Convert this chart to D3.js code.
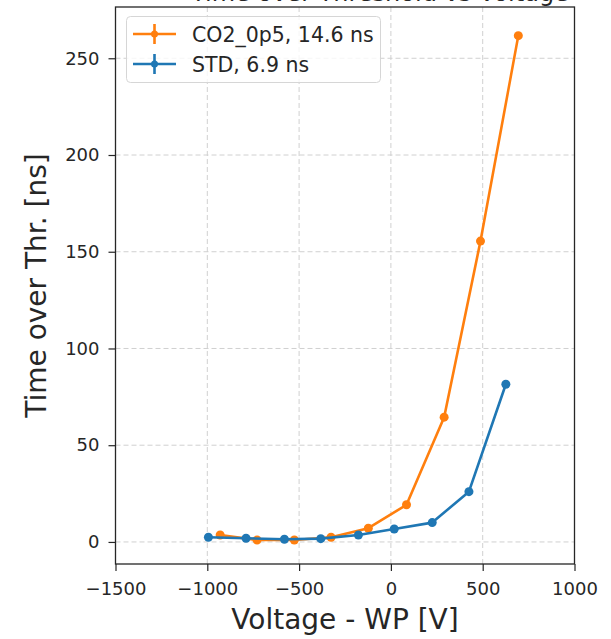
<!DOCTYPE html>
<html>
<head>
<meta charset="utf-8">
<script src="https://cdn.jsdelivr.net/npm/d3@7"></script>
<style>
  body { margin: 0; background: #fff; }
  svg { display: block; font-family: "DejaVu Sans", sans-serif; }
  .grid line { stroke: #d0d0d0; stroke-width: 1; stroke-dasharray: 5,3; }
</style>
</head>
<body>
<svg width="611" height="639"></svg>
<script>
(function() {
  // values
  var co2X = [-930, -729, -526, -326, -123, 85, 290, 488, 694];
  var co2Y = [3.6, 1.0, 1.0, 2.4, 7.1, 19.2, 64.5, 155.5, 261.7];
  var stdX = [-994, -789, -580, -382, -177, 18, 225, 425, 626];
  var stdY = [2.4, 1.9, 1.4, 1.7, 3.6, 6.7, 10, 26, 81.5];
  var seriesNames = ["CO2_0p5, 14.6 ns", "STD, 6.9 ns"];
  var seriesColors = ["#ff7f0e", "#1f77b4"];
  var xTicks = [-1500, -1000, -500, 0, 500, 1000];
  var yTicks = [0, 50, 100, 150, 200, 250];

  var svg = d3.select("svg");
  var left = 115.5, right = 574.5, top = 7, bottom = 564;
  var ink = "#262626";

  var x = d3.scaleLinear().domain([-1500, 1000]).range([left, right]);
  var y = d3.scaleLinear().domain([-11.4, 276.5]).range([bottom, top]);

  // cut-off title, only the bottom of it shows
  svg.append("text")
      .attr("x", 380)
      .attr("y", 0.5)
      .attr("text-anchor", "middle")
      .style("font-size", "24px")
      .attr("fill", ink)
      .text("Time over Threshold vs Voltage");

  // grid
  var grid = svg.append("g").attr("class", "grid");
  grid.selectAll(".gx")
    .data(xTicks.slice(1, -1))
    .enter().append("line")
      .attr("x1", function(d) { return x(d); })
      .attr("x2", function(d) { return x(d); })
      .attr("y1", top).attr("y2", bottom);
  grid.selectAll(".gy")
    .data(yTicks)
    .enter().append("line")
      .attr("y1", function(d) { return y(d); })
      .attr("y2", function(d) { return y(d); })
      .attr("x1", left).attr("x2", right);

  // axes
  var xAxis = svg.append("g")
      .attr("transform", "translate(0," + bottom + ")")
      .call(d3.axisBottom(x).tickValues(xTicks).tickSize(7).tickPadding(8)
        .tickFormat(function(d) { return d < 0 ? "\u2212" + Math.abs(d) : d; }));
  var yAxis = svg.append("g")
      .attr("transform", "translate(" + left + ",0)")
      .call(d3.axisLeft(y).tickValues(yTicks).tickSize(7).tickPadding(9));
  [xAxis, yAxis].forEach(function(a) {
    a.select(".domain").remove();
    a.attr("font-family", "DejaVu Sans").attr("font-size", 18);
    a.selectAll("line").attr("stroke", ink).attr("stroke-width", 1.2);
    a.selectAll("text")
        .attr("fill", ink)
        .attr("font-size", 18);
  });
  xAxis.selectAll("text").attr("dy", "0.89em");

  svg.append("rect")
      .attr("x", left).attr("y", top)
      .attr("width", right - left).attr("height", bottom - top)
      .attr("fill", "none")
      .attr("stroke", ink)
      .attr("stroke-width", 1.3);

  // series
  var line = d3.line()
      .x(function(d) { return x(d[0]); })
      .y(function(d) { return y(d[1]); });

  var series = [d3.zip(co2X, co2Y), d3.zip(stdX, stdY)];
  series.forEach(function(pts, i) {
    var g = svg.append("g");
    g.append("path")
        .datum(pts)
        .attr("fill", "none")
        .attr("stroke", seriesColors[i])
        .attr("stroke-width", 2.6)
        .attr("stroke-linejoin", "round")
        .attr("d", line);
    g.selectAll("circle")
      .data(pts)
      .enter().append("circle")
        .attr("cx", function(d) { return x(d[0]); })
        .attr("cy", function(d) { return y(d[1]); })
        .attr("r", 4.5)
        .attr("fill", seriesColors[i]);
  });

  // labels
  svg.append("text")
      .attr("x", (left + right) / 2)
      .attr("y", 629)
      .attr("text-anchor", "middle")
      .style("font-size", "28px")
      .attr("fill", ink)
      .text("Voltage - WP [V]");
  svg.append("text")
      .attr("transform", "translate(46," + ((top + bottom) / 2) + ") rotate(-90)")
      .attr("text-anchor", "middle")
      .style("font-size", "28px")
      .attr("fill", ink)
      .text("Time over Thr. [ns]");

  // legend
  var lg = svg.append("g");
  lg.append("rect")
      .attr("x", 126.5).attr("y", 16.5)
      .attr("width", 254).attr("height", 66)
      .attr("rx", 4)
      .attr("fill", "#fff")
      .attr("fill-opacity", 0.8)
      .attr("stroke", "#d6d6d6");
  seriesNames.forEach(function(name, i) {
    var cy = 34 + i * 30;
    lg.append("line")
        .attr("x1", 133).attr("x2", 176)
        .attr("y1", cy).attr("y2", cy)
        .attr("stroke", seriesColors[i]).attr("stroke-width", 2.6);
    lg.append("line")
        .attr("x1", 154.5).attr("x2", 154.5)
        .attr("y1", cy - 10).attr("y2", cy + 10)
        .attr("stroke", seriesColors[i]).attr("stroke-width", 2.6);
    lg.append("circle")
        .attr("cx", 154.5).attr("cy", cy).attr("r", 3.5)
        .attr("fill", seriesColors[i]);
    lg.append("text")
        .attr("x", 192).attr("y", cy + 7.5)
        .style("font-size", "20.5px")
        .attr("fill", ink)
        .text(name);
  });
})();
</script>
</body>
</html>
